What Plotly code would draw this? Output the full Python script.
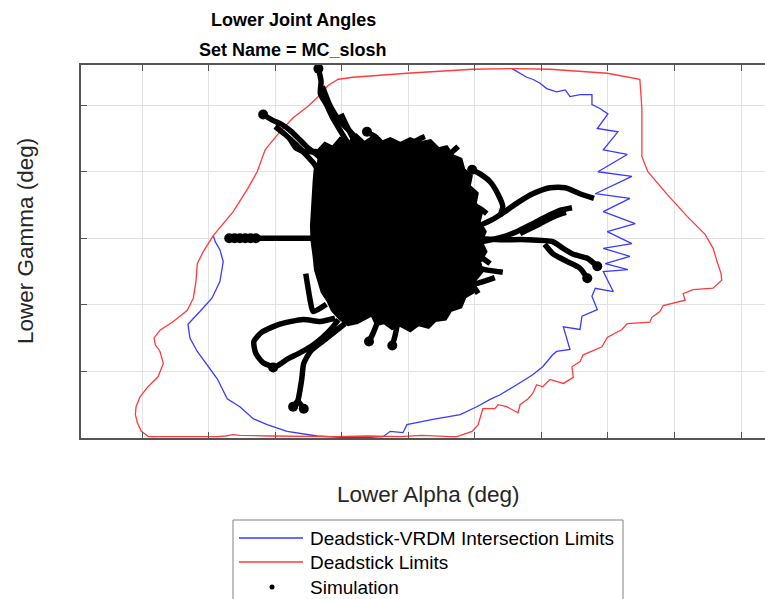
import plotly.graph_objects as go

# ---------------- data (degrees) ----------------
# Deadstick limit contour
red_alpha = [-39.0, -40.1, -40.7, -41.0, -40.9, -40.3, -39.2, -37.6, -36.8, -37.3, -38.0, -38.2, -37.3,
             -35.3, -33.2, -32.3, -31.9, -31.7, -30.8, -29.3, -26.3, -24.1, -22.7, -21.5, -19.3, -17.3,
             -15.1, -13.5, -12.0, -10.5, -8.3, -0.2, 9.7, 16.3, 21.3, 29.9, 34.8, 35.1, 35.1, 36.0, 38.9,
             41.9, 44.6, 45.8, 46.5, 47.0, 47.1, 45.8, 42.8, 41.3, 41.6, 38.3, 37.8, 36.6, 36.3, 32.9,
             32.1, 29.9, 29.1, 26.3, 25.8, 24.6, 24.8, 23.3, 21.3, 20.2, 19.3, 18.7, 18.0, 16.8, 16.5,
             14.8, 13.5, 13.0, 11.2, 10.5, 9.6, 8.7, 7.3, 6.3, 2.0, -1.2, -6.0, -11.0, -16.3, -21.0,
             -25.3, -26.3, -27.5, -28.7, -33.0, -39.0]
red_gamma = [-29.8, -29.0, -27.7, -26.5, -25.3, -23.8, -22.4, -20.8, -18.8, -17.0, -16.0, -15.0, -13.8,
             -12.5, -10.8, -9.0, -6.5, -3.8, -2.0, 0.4, 4.0, 7.5, 10.0, 13.3, 16.0, 18.1, 19.8, 21.3,
             23.0, 23.9, 24.2, 24.8, 25.4, 25.5, 25.4, 24.8, 23.9, 19.5, 12.3, 10.0, 6.6, 3.3, 0.6,
             -1.5, -3.8, -5.3, -6.3, -7.5, -7.7, -8.3, -9.3, -10.1, -11.0, -11.9, -12.6, -12.8, -13.7,
             -14.9, -16.3, -17.5, -18.5, -19.3, -20.9, -21.8, -21.2, -22.3, -22.0, -23.3, -24.1, -25.0,
             -26.2, -25.3, -25.0, -25.6, -25.6, -28.0, -29.0, -29.3, -29.8, -29.8, -29.6, -29.8, -29.7,
             -29.8, -29.8, -29.7, -29.6, -29.5, -29.7, -29.8, -29.8, -29.8]

# Deadstick / VRDM intersection contour
blue_alpha = [15.6, 16.8, 17.8, 18.7, 19.8, 20.8, 22.3, 23.6, 24.3, 25.8, 27.6, 27.6, 28.8, 30.0, 28.4,
              31.5, 29.3, 32.9, 28.5, 33.6, 28.1, 33.3, 29.3, 34.1, 29.9, 33.6, 29.3, 33.3, 29.6, 33.0,
              29.3, 30.8, 28.1, 27.6, 28.4, 26.1, 25.8, 23.3, 24.3, 22.3, 21.7, 20.2, 18.7, 16.3, 13.8,
              12.3, 10.3, 7.8, 3.7, -0.2, -0.8, -2.7, -3.8, -5.7, -10.2, -13.7, -18.2, -21.2, -23.3,
              -25.3, -27.2, -28.7, -30.2, -31.7, -32.8, -33.1, -31.3, -29.5, -28.3, -27.8, -28.3, -29.0,
              -29.3]
blue_gamma = [25.5, 24.8, 24.2, 23.9, 23.3, 22.5, 22.0, 22.3, 21.3, 21.6, 21.6, 20.1, 19.5, 18.7, 16.5,
              16.0, 13.3, 12.6, 10.0, 9.3, 6.7, 6.0, 4.0, 2.2, 1.0, -0.8, -1.5, -2.7, -3.8, -4.7, -5.0,
              -8.0, -7.5, -8.7, -10.7, -11.7, -13.7, -13.3, -16.7, -17.0, -17.5, -19.3, -20.5, -22.0,
              -23.5, -24.2, -25.3, -26.5, -27.2, -28.0, -29.2, -29.0, -29.8, -29.9, -29.9, -29.7, -29.0,
              -28.0, -27.1, -25.3, -24.1, -21.1, -19.0, -17.0, -15.0, -12.9, -11.0, -9.0, -6.5, -3.5,
              -1.7, -0.5, 0.4]

# Simulation: envelope of the densely overlapping runs
core_alpha = [-13.5, -12.5, -11.3, -10.2, -9.0, -7.8, -6.6, -5.4, -4.2, -2.7, -1.2, 0.3, 1.8, 3.3, 4.5,
              5.7, 6.6, 7.8, 8.2, 9.3, 9.0, 10.2, 9.9, 10.9, 10.5, 11.4, 10.8, 11.5, 10.6, 10.9, 9.9,
              9.6, 8.4, 7.8, 6.3, 5.5, 4.0, 3.0, 1.5, 0.3, -1.2, -2.4, -3.6, -4.7, -5.4, -6.5, -7.7,
              -9.0, -10.2, -11.3, -12.0, -12.8, -13.2, -13.8, -14.0, -14.3, -14.4, -14.3, -14.1, -14.0,
              -13.8]
core_gamma = [13.0, 14.1, 13.5, 14.8, 14.1, 15.3, 14.2, 15.0, 14.2, 14.8, 14.1, 14.8, 14.2, 14.5, 13.3,
              13.6, 12.3, 11.8, 10.3, 9.3, 7.8, 6.7, 5.2, 4.0, 2.5, 1.0, -0.5, -2.0, -3.5, -5.0, -6.2,
              -8.0, -8.7, -10.2, -10.7, -12.0, -12.2, -13.2, -12.8, -13.7, -12.9, -13.4, -12.5, -12.8,
              -11.3, -11.9, -12.5, -12.8, -11.9, -10.7, -9.2, -8.0, -6.5, -4.7, -2.7, -0.5, 1.8, 4.0,
              6.3, 8.5, 10.8]

# Simulation: individual runs leaving the dense region
run01_alpha = [-13.5, -13.1, -13.2, -12.3, -11.3, -10.1, -9.0, -7.8, -6.8]
run01_gamma = [25.5, 23.6, 21.7, 20.1, 18.0, 16.0, 14.2, 12.3, 10.3]
run02_alpha = [-12.9, -11.7, -10.2, -8.4, -6.9, -5.4]
run02_gamma = [22.8, 19.8, 17.5, 15.7, 13.5, 11.2]
run03_alpha = [-10.1, -9.2, -8.0, -6.5]
run03_gamma = [18.7, 16.8, 14.5, 12.3]
run04_alpha = [-21.8, -20.5, -19.0, -17.5, -16.3, -15.1, -13.8, -12.6, -11.4, -10.5]
run04_gamma = [18.6, 17.8, 17.1, 16.0, 14.8, 13.6, 12.6, 11.5, 10.3, 8.8]
run05_alpha = [-17.8, -16.9, -15.5, -13.5, -12.3]
run05_gamma = [15.0, 13.6, 13.0, 13.0, 11.8]
run06_alpha = [-20.0, -18.5, -17.0, -15.5, -14.4, -13.5]
run06_gamma = [16.8, 15.6, 14.2, 12.7, 11.5, 10.3]
run07_alpha = [-6.2, -5.0, -3.8]
run07_gamma = [16.0, 15.3, 14.1]
run08_alpha = [-27.1, -24.5, -20.8, -17.0, -13.5]
run08_gamma = [0.0, 0.0, 0.0, 0.0, 0.0]
run09_alpha = [-11.0, -13.2, -15.8, -19.3, -22.0, -23.2, -22.9, -21.8, -20.0, -18.1, -16.3, -14.4,
               -12.9, -11.4, -10.5]
run09_gamma = [-12.0, -12.5, -12.2, -12.9, -14.1, -15.5, -17.3, -18.7, -19.3, -18.1, -17.2, -16.1,
               -14.9, -13.4, -12.2]
run10_alpha = [-15.4, -14.7, -14.3, -12.3]
run10_gamma = [-5.3, -9.5, -11.0, -9.9]
run11_alpha = [-9.5, -11.0, -12.9, -14.7, -15.7, -16.0, -16.3, -16.6, -17.3]
run11_gamma = [-12.8, -14.0, -15.5, -17.0, -18.8, -21.1, -23.0, -24.4, -25.3]
run12_alpha = [-16.6, -15.7]
run12_gamma = [-24.4, -25.6]
run13_alpha = [-4.7, -5.3, -5.9]
run13_gamma = [-12.8, -14.3, -15.5]
run14_alpha = [-1.7, -2.0, -2.4]
run14_gamma = [-13.2, -14.7, -16.1]
run15_alpha = [9.6, 10.9, 12.3, 13.5, 14.2, 13.8]
run15_gamma = [10.3, 9.6, 8.5, 6.6, 4.8, 3.4]
run16_alpha = [10.5, 12.6, 14.5, 16.5, 18.7, 21.3, 23.6, 25.8, 27.9]
run16_gamma = [1.8, 2.8, 4.0, 5.4, 6.7, 7.6, 7.6, 6.7, 6.0]
run17_alpha = [11.1, 13.8, 16.3, 18.7, 21.0, 22.8, 24.6]
run17_gamma = [-0.5, 0.1, 1.0, 2.2, 3.4, 4.2, 4.6]
run18_alpha = [16.8, 19.8, 22.2, 23.7]
run18_gamma = [0.7, 2.2, 3.4, 3.9]
run19_alpha = [9.3, 13.8, 17.8, 21.7, 23.1, 24.8, 26.9, 28.4]
run19_gamma = [0.0, -0.2, -0.2, -0.5, -1.4, -2.4, -3.0, -4.2]
run20_alpha = [20.5, 21.7, 23.9, 25.8, 26.9]
run20_gamma = [-0.9, -2.3, -3.5, -4.5, -6.0]
run21_alpha = [8.5, 11.5, 14.2]
run21_gamma = [-3.8, -4.7, -5.1]
run22_alpha = [7.0, 10.0, 13.0]
run22_gamma = [-6.2, -6.8, -5.9]
run23_alpha = [7.0, 9.3, 10.5]
run23_gamma = [-4.2, -6.5, -8.3]
run24_alpha = [-9.5, -9.8]
run24_gamma = [13.0, 15.3]
run25_alpha = [0.3, 1.0, 2.5]
run25_gamma = [12.3, 14.5, 15.3]
run26_alpha = [4.8, 6.6, 7.5]
run26_gamma = [11.5, 13.0, 13.8]
run27_alpha = [7.8, 10.5, 11.8]
run27_gamma = [4.8, 4.6, 3.7]
run28_alpha = [7.8, 10.5, 12.3]
run28_gamma = [-2.0, -2.6, -3.8]

# Start / end states where samples pile up
ends_alpha = [-13.5, -21.8, -6.2, -26.9, -26.1, -25.3, -24.5, -23.7, -22.9, -20.3, -17.3, -15.7, -5.9,
              -2.4, 28.4, 26.9, 9.6]
ends_gamma = [25.5, 18.6, 16.0, 0.0, 0.0, 0.0, 0.0, 0.0, 0.0, -19.4, -25.3, -25.6, -15.5, -16.1, -4.2,
              -6.0, 10.3]

runs = [
    (run01_alpha, run01_gamma), (run02_alpha, run02_gamma), (run03_alpha, run03_gamma),
    (run04_alpha, run04_gamma), (run05_alpha, run05_gamma), (run06_alpha, run06_gamma),
    (run07_alpha, run07_gamma), (run08_alpha, run08_gamma), (run09_alpha, run09_gamma),
    (run10_alpha, run10_gamma), (run11_alpha, run11_gamma), (run12_alpha, run12_gamma),
    (run13_alpha, run13_gamma), (run14_alpha, run14_gamma), (run15_alpha, run15_gamma),
    (run16_alpha, run16_gamma), (run17_alpha, run17_gamma), (run18_alpha, run18_gamma),
    (run19_alpha, run19_gamma), (run20_alpha, run20_gamma), (run21_alpha, run21_gamma),
    (run22_alpha, run22_gamma), (run23_alpha, run23_gamma), (run24_alpha, run24_gamma),
    (run25_alpha, run25_gamma), (run26_alpha, run26_gamma), (run27_alpha, run27_gamma),
    (run28_alpha, run28_gamma),
]

# ---------------- styling ----------------
W, H = 765, 599
PLOT_L, PLOT_R, PLOT_T, PLOT_B = 81, 765, 65, 438
BLUE = "#3a3aff"
RED = "#ff3b3b"
BLACK = "#000000"
AXIS = "#555555"
GRID = "#e2e2e2"
LABEL_FONT = "Liberation Sans, Arial, Helvetica, sans-serif"
TITLE_FONT = "Liberation Sans, Arial, Helvetica, sans-serif"


def px_x(px):
    return (px - PLOT_L) / (PLOT_R - PLOT_L)


def px_y(py):
    return (PLOT_B - py) / (PLOT_B - PLOT_T)


fig = go.Figure()

fig.add_trace(go.Scatter(x=blue_alpha, y=blue_gamma, mode="lines",
                         line=dict(color=BLUE, width=1.3),
                         name="Deadstick-VRDM Intersection Limits", showlegend=False))
fig.add_trace(go.Scatter(x=red_alpha, y=red_gamma, mode="lines",
                         line=dict(color=RED, width=1.3),
                         name="Deadstick Limits", showlegend=False))

# dense simulation region
fig.add_trace(go.Scatter(x=core_alpha, y=core_gamma, mode="lines", fill="toself",
                         fillcolor=BLACK, line=dict(color=BLACK, width=5),
                         name="Simulation", showlegend=False))

# individual runs, joined into one trace with gaps
sim_x, sim_y = [], []
for ra, rg in runs:
    sim_x += ra + [None]
    sim_y += rg + [None]
fig.add_trace(go.Scatter(x=sim_x, y=sim_y, mode="lines",
                         line=dict(color=BLACK, width=5.5, shape="spline", smoothing=0.6),
                         connectgaps=False, name="Simulation", showlegend=False))
fig.add_trace(go.Scatter(x=ends_alpha, y=ends_gamma, mode="markers",
                         marker=dict(color=BLACK, size=10),
                         name="Simulation", showlegend=False))

# ---------------- axes ----------------
fig.update_xaxes(range=[-49.17, 53.6], dtick=10, tick0=0, showticklabels=False,
                 showgrid=True, gridcolor=GRID, gridwidth=1, zeroline=False,
                 showline=True, linecolor=AXIS, linewidth=1.5, mirror="ticks",
                 ticks="inside", ticklen=6, tickcolor=AXIS, tickwidth=1)
fig.update_yaxes(range=[-30, 26.04], dtick=10, tick0=0, showticklabels=False,
                 showgrid=True, gridcolor=GRID, gridwidth=1, zeroline=False,
                 showline=True, linecolor=AXIS, linewidth=1.5, mirror=False,
                 ticks="inside", ticklen=6, tickcolor=AXIS, tickwidth=1)

annotations = [
    dict(text="Lower Joint Angles", x=px_x(293), y=px_y(20), xanchor="center", yanchor="middle",
         font=dict(family=TITLE_FONT, size=18, color="#000000", weight="bold")),
    dict(text="Set Name = MC_slosh", x=px_x(293), y=px_y(49.5), xanchor="center", yanchor="middle",
         font=dict(family=TITLE_FONT, size=18, color="#000000", weight="bold")),
    dict(text="Lower Alpha (deg)", x=px_x(428.5), y=px_y(494), xanchor="center", yanchor="middle",
         font=dict(family=LABEL_FONT, size=22.5, color="#262626")),
    dict(text="Lower Gamma (deg)", x=px_x(25), y=px_y(241), xanchor="center", yanchor="middle",
         textangle=-90, font=dict(family=LABEL_FONT, size=22.5, color="#262626")),
]

# legend box
leg_rows = [("Deadstick-VRDM Intersection Limits", 538), ("Deadstick Limits", 562), ("Simulation", 587)]
for label, ry in leg_rows:
    annotations.append(dict(text=label, x=px_x(308), y=px_y(ry), xanchor="left", yanchor="middle",
                            font=dict(family=LABEL_FONT, size=19, color="#000000")))

shapes = [
    dict(type="rect", xref="paper", yref="paper", x0=px_x(233), x1=px_x(623),
         y0=px_y(650), y1=px_y(520), line=dict(color="#808080", width=1), fillcolor="white",
         layer="above"),
    dict(type="line", xref="paper", yref="paper", x0=px_x(239), x1=px_x(303),
         y0=px_y(538), y1=px_y(538), line=dict(color=BLUE, width=1.3)),
    dict(type="line", xref="paper", yref="paper", x0=px_x(239), x1=px_x(303),
         y0=px_y(562), y1=px_y(562), line=dict(color=RED, width=1.3)),
    dict(type="circle", xref="paper", yref="paper", x0=px_x(269.5), x1=px_x(274.5),
         y0=px_y(589.5), y1=px_y(584.5), line=dict(color=BLACK, width=0), fillcolor=BLACK),
]

for a in annotations:
    a.update(xref="paper", yref="paper", showarrow=False)

fig.update_layout(
    width=W, height=H,
    margin=dict(l=PLOT_L, r=W - PLOT_R, t=PLOT_T, b=H - PLOT_B, pad=0),
    paper_bgcolor="white", plot_bgcolor="white",
    showlegend=False,
    annotations=annotations,
    shapes=shapes,
)

fig.write_html("out.html")
